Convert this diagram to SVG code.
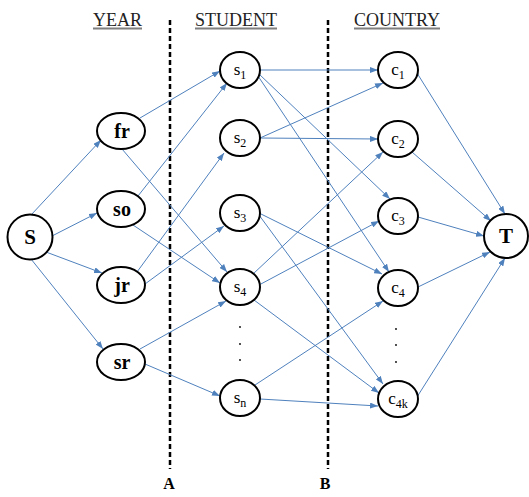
<svg xmlns="http://www.w3.org/2000/svg" width="529" height="497" viewBox="0 0 529 497">
<style>
.node{fill:#fff;stroke:#000;stroke-width:2}
.bl{font-family:"Liberation Serif",serif;font-weight:bold;fill:#000;text-anchor:middle}
.sl{font-family:"Liberation Serif",serif;font-size:17px;fill:#000;text-anchor:middle}
.hd{font-family:"Liberation Serif",serif;font-size:18px;fill:#222}
.ul{stroke:#7f7f7f;stroke-width:1.8}
.dash{stroke:#000;stroke-width:2.5;stroke-dasharray:5 3}
.e line{stroke:#4f81bd;stroke-width:1;marker-end:url(#ah)}
.dot{fill:#000}
</style>
<defs>
<marker id="ah" markerWidth="8" markerHeight="6" refX="8" refY="3" orient="auto" markerUnits="userSpaceOnUse">
<path d="M0,0 L8,3 L0,6 Z" fill="#4f81bd"/>
</marker>
</defs>
<rect width="529" height="497" fill="#fff"/>
<g id="headers">
<text class="hd" x="93" y="26">YEAR</text>
<line class="ul" x1="93" y1="28.5" x2="142" y2="28.5"/>
<text class="hd" x="195" y="26">STUDENT</text>
<line class="ul" x1="195" y1="28.5" x2="277" y2="28.5"/>
<text class="hd" x="354" y="26">COUNTRY</text>
<line class="ul" x1="354" y1="28.5" x2="440" y2="28.5"/>
</g>
<g id="cuts">
<line class="dash" x1="170" y1="20" x2="170" y2="469"/>
<line class="dash" x1="328" y1="20" x2="328" y2="469"/>
<text class="bl" x="169" y="489" font-size="16">A</text>
<text class="bl" x="325" y="489" font-size="16">B</text>
</g>
<g id="connectors" class="e">
<line x1="31" y1="215" x2="101" y2="140"/>
<line x1="52" y1="236" x2="97" y2="213"/>
<line x1="46" y1="252" x2="102" y2="273"/>
<line x1="31" y1="259" x2="103" y2="349"/>
<line x1="140" y1="118" x2="220" y2="71"/>
<line x1="122" y1="149" x2="227" y2="272"/>
<line x1="138" y1="196" x2="227" y2="83"/>
<line x1="133" y1="225" x2="220" y2="283"/>
<line x1="137" y1="272" x2="224" y2="153"/>
<line x1="145" y1="284" x2="224" y2="226"/>
<line x1="140" y1="349" x2="226" y2="301"/>
<line x1="145" y1="364" x2="220" y2="396"/>
<line x1="260" y1="70" x2="378" y2="70"/>
<line x1="259" y1="74" x2="390" y2="199"/>
<line x1="258" y1="76" x2="389" y2="272"/>
<line x1="260" y1="138" x2="383" y2="83"/>
<line x1="260" y1="138" x2="378" y2="139"/>
<line x1="259" y1="213" x2="382" y2="274"/>
<line x1="259" y1="215" x2="383" y2="384"/>
<line x1="253" y1="274" x2="383" y2="152"/>
<line x1="259" y1="285" x2="379" y2="221"/>
<line x1="254" y1="300" x2="379" y2="393"/>
<line x1="255" y1="385" x2="383" y2="301"/>
<line x1="260" y1="399" x2="378" y2="406"/>
<line x1="417" y1="73" x2="505" y2="214"/>
<line x1="412" y1="152" x2="491" y2="221"/>
<line x1="418" y1="217" x2="484" y2="236"/>
<line x1="418" y1="287" x2="490" y2="252"/>
<line x1="417" y1="397" x2="505" y2="258"/>
</g>
<g id="S"><ellipse class="node" cx="30" cy="237" rx="22.5" ry="22.5"/><text class="bl" x="30" y="244" font-size="21">S</text></g>
<g id="fr"><ellipse class="node" cx="121" cy="131" rx="24" ry="18"/><text class="bl" x="122" y="138" font-size="20">fr</text></g>
<g id="so"><ellipse class="node" cx="121" cy="209" rx="24" ry="18"/><text class="bl" x="122" y="216" font-size="20">so</text></g>
<g id="jr"><ellipse class="node" cx="121" cy="285" rx="24" ry="18"/><text class="bl" x="122" y="292" font-size="20">jr</text></g>
<g id="sr"><ellipse class="node" cx="121" cy="362" rx="24" ry="18"/><text class="bl" x="122" y="369" font-size="20">sr</text></g>
<g id="s1"><ellipse class="node" cx="240" cy="70" rx="20" ry="18"/><text class="sl" x="240" y="75">s<tspan dy="4" font-size="12">1</tspan></text></g>
<g id="s2"><ellipse class="node" cx="240" cy="138" rx="20" ry="18"/><text class="sl" x="240" y="143">s<tspan dy="4" font-size="12">2</tspan></text></g>
<g id="s3"><ellipse class="node" cx="240" cy="213" rx="20" ry="18"/><text class="sl" x="240" y="218">s<tspan dy="4" font-size="12">3</tspan></text></g>
<g id="s4"><ellipse class="node" cx="240" cy="287" rx="20" ry="18"/><text class="sl" x="240" y="292">s<tspan dy="4" font-size="12">4</tspan></text></g>
<g id="sn"><ellipse class="node" cx="240" cy="398" rx="20" ry="18"/><text class="sl" x="240" y="403">s<tspan dy="4" font-size="12">n</tspan></text></g>
<g id="sdots"><circle class="dot" cx="240" cy="327" r="0.9"/><circle class="dot" cx="240" cy="344" r="0.9"/><circle class="dot" cx="240" cy="360" r="0.9"/></g>
<g id="c1"><ellipse class="node" cx="398" cy="70" rx="20" ry="18"/><text class="sl" x="398" y="75">c<tspan dy="4" font-size="12">1</tspan></text></g>
<g id="c2"><ellipse class="node" cx="398" cy="139" rx="20" ry="18"/><text class="sl" x="398" y="144">c<tspan dy="4" font-size="12">2</tspan></text></g>
<g id="c3"><ellipse class="node" cx="398" cy="216" rx="20" ry="18"/><text class="sl" x="398" y="221">c<tspan dy="4" font-size="12">3</tspan></text></g>
<g id="c4"><ellipse class="node" cx="398" cy="288" rx="20" ry="18"/><text class="sl" x="398" y="293">c<tspan dy="4" font-size="12">4</tspan></text></g>
<g id="c4k"><ellipse class="node" cx="398" cy="399" rx="20" ry="18"/><text class="sl" x="398" y="404">c<tspan dy="4" font-size="12">4k</tspan></text></g>
<g id="cdots"><circle class="dot" cx="396" cy="329" r="0.9"/><circle class="dot" cx="396" cy="345" r="0.9"/><circle class="dot" cx="396" cy="362" r="0.9"/></g>
<g id="T"><ellipse class="node" cx="506" cy="236" rx="22" ry="22"/><text class="bl" x="506" y="243" font-size="21">T</text></g>
</svg>
